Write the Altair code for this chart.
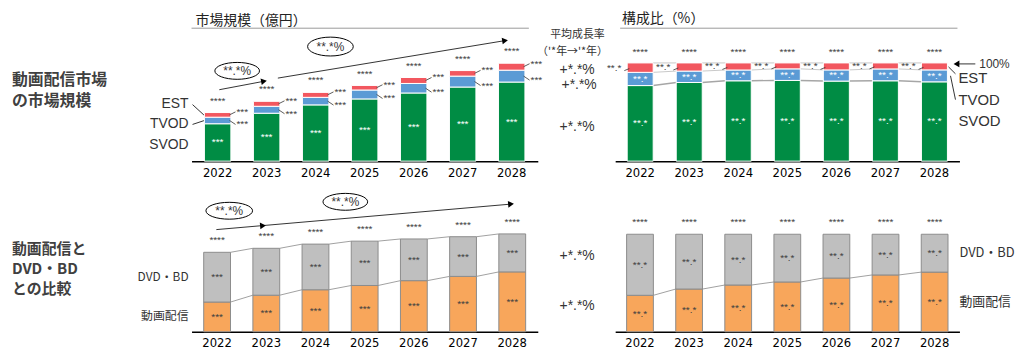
import altair as alt
import pandas as pd

# ---------------- data ----------------
YEARS = ["2022", "2023", "2024", "2025", "2026", "2027", "2028"]
SVOD = [3770, 4830, 5670, 6270, 6870, 7470, 7970]
TVOD = [660, 700, 760, 900, 960, 1100, 1200]
EST = [470, 500, 500, 460, 600, 560, 700]
DVD_BD = [8200, 7730, 7520, 7310, 6870, 6540, 6260]

SEG_TOP = ["SVOD", "TVOD", "EST"]
COL_TOP = ["#008C44", "#5B9BD5", "#F2575F"]
SEG_BOT = ["動画配信", "DVD・BD"]
COL_BOT = ["#F8A65B", "#BFBFBF"]

FONT = "Liberation Sans, Noto Sans CJK JP, sans-serif"
JFONT = "Noto Sans CJK JP, Liberation Sans, sans-serif"
NARROW = "Liberation Sans Narrow, DejaVu Sans Condensed, Liberation Sans, sans-serif"


def stack(series):
    rows = []
    for i, yr in enumerate(YEARS):
        total = sum(v[i] for v in series.values())
        base = 0
        for name, vals in series.items():
            v = vals[i]
            rows.append(dict(year=yr, seg=name, v=v, y0=base, y1=base + v,
                             mid=base + v / 2, s0=base / total,
                             s1=(base + v) / total, smid=(base + v / 2) / total))
            base += v
    return pd.DataFrame(rows)


top = stack({"SVOD": SVOD, "TVOD": TVOD, "EST": EST})
stream_total = [a + b + c for a, b, c in zip(SVOD, TVOD, EST)]
bot = stack({"動画配信": stream_total, "DVD・BD": DVD_BD})


def connectors(df, seg, col):
    d = df[df.seg == seg].set_index("year")
    rows = []
    for a, b in zip(YEARS[:-1], YEARS[1:]):
        rows.append(dict(year=a, nxt=b, lv=d.loc[a, col], lv2=d.loc[b, col]))
    return pd.DataFrame(rows)


ONE = pd.DataFrame({"k": [0]})


def T(s, x, y, size=12, color="#333", align="left", weight="normal", font=FONT):
    return alt.Chart(ONE).mark_text(text=s, align=align, baseline="middle", fontSize=size,
                                    color=color, fontWeight=weight, font=font).encode(
        x=alt.value(x), y=alt.value(y))


def L(x1, y1, x2, y2, color="#333", w=1.0):
    return alt.Chart(ONE).mark_rule(color=color, strokeWidth=w).encode(
        x=alt.value(x1), y=alt.value(y1), x2=alt.value(x2), y2=alt.value(y2))


def ELL(x, y, w, h):
    k = 0.5523
    r = h / w
    p = (f"M -1 0 C -1 {-k*r:.4f} {-k:.4f} {-r:.4f} 0 {-r:.4f} "
         f"C {k:.4f} {-r:.4f} 1 {-k*r:.4f} 1 0 "
         f"C 1 {k*r:.4f} {k:.4f} {r:.4f} 0 {r:.4f} "
         f"C {-k:.4f} {r:.4f} -1 {k*r:.4f} -1 0 Z")
    return alt.Chart(ONE).mark_point(shape=p, size=w * w, filled=True, fill="white",
                                     stroke="#000", strokeWidth=1, opacity=1).encode(
        x=alt.value(x), y=alt.value(y))


def HEAD(x, y, angle, shape="triangle-right"):
    return alt.Chart(ONE).mark_point(shape=shape, size=45, filled=True, color="#000",
                                     opacity=1, angle=angle).encode(
        x=alt.value(x), y=alt.value(y))


def xenc(pi, po):
    return alt.X("year:N", sort=YEARS,
                 scale=alt.Scale(paddingInner=pi, paddingOuter=po),
                 axis=alt.Axis(title=None, labelAngle=0, ticks=False, grid=False,
                               domainColor="#000", domainWidth=1.5, labelFont=NARROW,
                               labelFontSize=13, labelColor="#000", labelPadding=5))


def lab(df, x, ys, field, text, color="#404040", size=10, **kw):
    return alt.Chart(df).mark_text(text=text, fontSize=size, color=color, font=FONT,
                                   baseline="middle", **kw).encode(
        x=x, y=alt.Y(f"{field}:Q", scale=ys, axis=None))


def conn(df, x, ys, color, w, half):
    return alt.Chart(df).mark_rule(color=color, strokeWidth=w, xOffset=half,
                                   x2Offset=-half).encode(
        x=x, x2=alt.X2("nxt:N"), y=alt.Y("lv:Q", scale=ys, axis=None), y2="lv2:Q")


def leader(df, x, ys, field, xo, x2o, yo, y2o):
    return alt.Chart(df).mark_rule(color="#333", strokeWidth=0.8, xOffset=xo, x2Offset=x2o,
                                   yOffset=yo, y2Offset=y2o).encode(
        x=x, x2=alt.X2("year:N"), y=alt.Y(f"{field}:Q", scale=ys, axis=None), y2=f"{field}:Q")


H1, H2 = 153, 148
WA, WB, WC, WD, WE = 185, 349, 78, 347, 48

# ---------------- row 1 ----------------
A1 = alt.layer(
    T("動画配信市場", 4, 71, size=16, weight="bold", color="#404040", font=JFONT),
    T("の市場規模", 4, 92, size=16, weight="bold", color="#404040", font=JFONT),
    T("EST", 182, 95, size=14, align="right"),
    T("TVOD", 182, 116, size=14, align="right"),
    T("SVOD", 182, 137, size=14, align="right"),
    L(186, 96, 198, 107),
    L(186, 116, 198, 112),
).properties(width=WA, height=H1)

X1 = xenc(0.46, 0.2625)
YS1 = alt.Scale(domain=[0, 15300])
est_t = top[top.seg == "EST"]
tvod_t = top[top.seg == "TVOD"]
svod_t = top[top.seg == "SVOD"]
B1 = alt.layer(
    T("市場規模（億円）", 4, 12, size=14, color="#222", font=JFONT),
    L(0, 19, 340, 19, color="#999"),
    L(28, 81, 73, 72.5),
    HEAD(73, 72.5, 349),
    L(87, 69.3, 316, 31.5),
    HEAD(316, 31.5, 351),
    ELL(46, 62, 45, 17),
    T("**.*%", 46, 62, size=12, align="center"),
    ELL(140, 37.5, 46, 19),
    T("**.*%", 140, 37.5, size=12, align="center"),
    alt.Chart(top).mark_bar(stroke="white", strokeWidth=1).encode(
        x=X1, y=alt.Y("y1:Q", scale=YS1, axis=None), y2="y0:Q",
        color=alt.Color("seg:N", scale=alt.Scale(domain=SEG_TOP, range=COL_TOP), legend=None)),
    lab(est_t, X1, YS1, "y1", "****", dy=-12),
    lab(svod_t, X1, YS1, "mid", "***", color="white"),
    lab(est_t, X1, YS1, "mid", "***", align="left", dx=19, dy=-3),
    lab(tvod_t, X1, YS1, "mid", "***", align="left", dx=19, dy=4),
    leader(est_t, X1, YS1, "mid", 12, 18, 0, -3),
    leader(tvod_t, X1, YS1, "mid", 12, 18, 0, 4),
).properties(width=WB, height=H1)

C1 = alt.layer(
    T("平均成長率", 40, 26, size=11, align="center", font=JFONT),
    T("（'*年→'*年）", 35, 43, size=11, align="center", font=JFONT),
    T("+*.*%", 22, 61, size=14),
    T("+*.*%", 24, 76, size=14),
    T("+*.*%", 22, 119, size=14),
).properties(width=WC, height=H1)

X2 = xenc(0.47, 0.245)
YS2 = alt.Scale(domain=[0, 153 / 99])
D1 = alt.layer(
    T("構成比（%）", 7, 10, size=14, color="#222", font=JFONT),
    L(5, 19, 345, 19, color="#999"),
    conn(connectors(top, "EST", "s1"), X2, YS2, "#c8c8c8", 1, 13),
    conn(connectors(top, "EST", "s0"), X2, YS2, "#c8c8c8", 1, 13),
    conn(connectors(top, "SVOD", "s1"), X2, YS2, "#a6a6a6", 1.5, 13),
    alt.Chart(top).mark_bar(stroke="white", strokeWidth=1).encode(
        x=X2, y=alt.Y("s1:Q", scale=YS2, axis=None), y2="s0:Q",
        color=alt.Color("seg:N", scale=alt.Scale(domain=SEG_TOP, range=COL_TOP), legend=None)),
    lab(est_t, X2, YS2, "s1", "****", dy=-11),
    lab(svod_t, X2, YS2, "smid", "**.*", color="white"),
    lab(tvod_t, X2, YS2, "smid", "**.*", color="white"),
    lab(est_t, X2, YS2, "smid", "**.*", align="right", dx=-19),
    leader(est_t, X2, YS2, "smid", -16, -11, 3, 1),
).properties(width=WD, height=H1)

E1 = alt.layer(
    L(-4, 55, 16, 55),
    HEAD(-3, 55, 0, "triangle-left"),
    T("100%", 20, 55, size=12),
    T("EST", -1, 69, size=15),
    T("TVOD", -1, 91, size=15),
    T("SVOD", -1, 113, size=15),
    L(-11, 58, -4, 65),
    L(-9, 67, -4, 91),
).properties(width=WE, height=H1)

# ---------------- row 2 ----------------
A2 = alt.layer(
    T("動画配信と", 4, 65, size=15, weight="bold", color="#404040", font=JFONT),
    T("DVD・BD", 4, 85, size=15, weight="bold", color="#404040", font=JFONT),
    T("との比較", 4, 105, size=15, weight="bold", color="#404040", font=JFONT),
    T("DVD・BD", 182, 93, size=12, align="right", font=JFONT),
    T("動画配信", 182, 132, size=12, align="right", font=JFONT),
).properties(width=WA, height=H2)

X3 = xenc(0.455, 0.247)
YS3 = alt.Scale(domain=[0, 24200])
st_b = bot[bot.seg == "動画配信"]
dv_b = bot[bot.seg == "DVD・BD"]
B2 = alt.layer(
    L(25, 45, 322, 19.3),
    HEAD(72, 41, 355),
    HEAD(322, 19.3, 355),
    ELL(38, 26, 47, 17),
    T("**.*%", 38, 26, size=12, align="center"),
    ELL(155, 17, 45, 17),
    T("**.*%", 155, 17, size=12, align="center"),
    conn(connectors(bot, "DVD・BD", "y1"), X3, YS3, "#a0a0a0", 1, 13.5),
    conn(connectors(bot, "動画配信", "y1"), X3, YS3, "#a0a0a0", 1, 13.5),
    alt.Chart(bot).mark_bar(stroke="#8c8c8c", strokeWidth=1).encode(
        x=X3, y=alt.Y("y1:Q", scale=YS3, axis=None), y2="y0:Q",
        color=alt.Color("seg:N", scale=alt.Scale(domain=SEG_BOT, range=COL_BOT), legend=None)),
    lab(dv_b, X3, YS3, "y1", "****", dy=-12),
    lab(dv_b, X3, YS3, "mid", "***"),
    lab(st_b, X3, YS3, "mid", "***"),
).properties(width=WB, height=H2)

C2 = alt.layer(
    T("+*.*%", 22, 72, size=14),
    T("+*.*%", 22, 122, size=14),
).properties(width=WC, height=H2)

X4 = xenc(0.455, 0.233)
YS4 = alt.Scale(domain=[0, 148 / 98.3])
D2 = alt.layer(
    conn(connectors(bot, "動画配信", "s1"), X4, YS4, "#a0a0a0", 1, 13.5),
    alt.Chart(bot).mark_bar(stroke="#8c8c8c", strokeWidth=1).encode(
        x=X4, y=alt.Y("s1:Q", scale=YS4, axis=None), y2="s0:Q",
        color=alt.Color("seg:N", scale=alt.Scale(domain=SEG_BOT, range=COL_BOT), legend=None)),
    lab(dv_b, X4, YS4, "s1", "****", dy=-12),
    lab(dv_b, X4, YS4, "smid", "**.*"),
    lab(st_b, X4, YS4, "smid", "**.*"),
).properties(width=WD, height=H2)

E2 = alt.layer(
    T("DVD・BD", 0, 69, size=13, font=JFONT),
    T("動画配信", 0, 118, size=13, font=JFONT),
).properties(width=WE, height=H2)

chart = alt.concat(A1, B1, C1, D1, E1, A2, B2, C2, D2, E2, columns=5,
                   spacing={"row": 24, "column": 0}, bounds="flush", padding=0,
                   background="white"
                   ).resolve_scale(color="independent").configure_view(
    stroke=None, strokeWidth=0)

chart.save("out.html", embed_options={"renderer": "svg", "actions": False})
